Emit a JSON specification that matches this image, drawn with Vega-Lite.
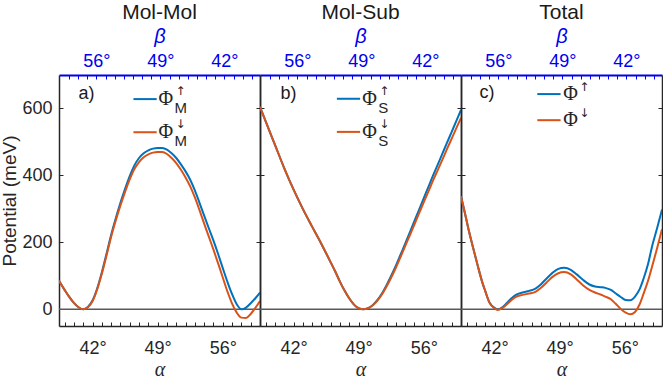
{
  "$schema": "https://vega.github.io/schema/vega-lite/v6.json",
  "padding": {"left": 0, "top": 2, "right": 0, "bottom": 0},
  "spacing": 0,
  "bounds": "flush",
  "config": {
    "view": {"stroke": null},
    "font": "Liberation Sans",
    "axis": {
      "grid": false,
      "labelFont": "Liberation Sans",
      "labelFontSize": 18,
      "labelColor": "#262626",
      "labelOverlap": false,
      "domainColor": "#262626",
      "domainWidth": 1.5,
      "tickColor": "#262626",
      "tickWidth": 1,
      "tickSize": -4,
      "titleFontWeight": "normal",
      "titleColor": "#262626"
    },
    "title": {"fontSize": 21, "fontWeight": "normal", "color": "#1a1a1a", "font": "Liberation Sans", "offset": 3}
  },
  "datasets": {
    "molmol": [
      {"a": 38.4, "up": 85, "dn": 85}, {"a": 39.0, "up": 58, "dn": 58}, {"a": 39.5, "up": 37, "dn": 37},
      {"a": 40.0, "up": 19, "dn": 19}, {"a": 40.5, "up": 6, "dn": 6}, {"a": 41.0, "up": 0, "dn": 0},
      {"a": 41.5, "up": 7, "dn": 6}, {"a": 42.0, "up": 26, "dn": 24}, {"a": 42.5, "up": 62, "dn": 59},
      {"a": 43.0, "up": 110, "dn": 106}, {"a": 43.5, "up": 165, "dn": 160}, {"a": 44.0, "up": 222, "dn": 216},
      {"a": 44.5, "up": 272, "dn": 265}, {"a": 45.0, "up": 318, "dn": 310}, {"a": 45.5, "up": 360, "dn": 351},
      {"a": 46.0, "up": 398, "dn": 388}, {"a": 46.5, "up": 430, "dn": 419}, {"a": 47.0, "up": 452, "dn": 440},
      {"a": 47.5, "up": 466, "dn": 454}, {"a": 48.0, "up": 475, "dn": 463}, {"a": 48.5, "up": 480, "dn": 468},
      {"a": 49.0, "up": 482, "dn": 470}, {"a": 49.5, "up": 482, "dn": 470}, {"a": 50.0, "up": 477, "dn": 464},
      {"a": 50.5, "up": 466, "dn": 452}, {"a": 51.0, "up": 452, "dn": 437}, {"a": 51.5, "up": 433, "dn": 417},
      {"a": 52.0, "up": 412, "dn": 394}, {"a": 52.5, "up": 387, "dn": 367}, {"a": 53.0, "up": 355, "dn": 334},
      {"a": 53.5, "up": 318, "dn": 296}, {"a": 54.0, "up": 280, "dn": 256}, {"a": 54.5, "up": 242, "dn": 217},
      {"a": 55.0, "up": 205, "dn": 178}, {"a": 55.5, "up": 165, "dn": 137}, {"a": 56.0, "up": 123, "dn": 95},
      {"a": 56.5, "up": 82, "dn": 53}, {"a": 57.0, "up": 45, "dn": 17}, {"a": 57.5, "up": 15, "dn": -10},
      {"a": 58.0, "up": 0, "dn": -25}, {"a": 58.5, "up": 5, "dn": -26}, {"a": 59.0, "up": 18, "dn": -14},
      {"a": 59.5, "up": 33, "dn": 4}, {"a": 60.0, "up": 50, "dn": 25}
    ],
    "molsub": [
      {"a": 38.4, "up": 605, "dn": 605}, {"a": 39.0, "up": 562, "dn": 562}, {"a": 40.0, "up": 492, "dn": 492},
      {"a": 41.0, "up": 422, "dn": 422}, {"a": 42.0, "up": 358, "dn": 358}, {"a": 43.0, "up": 300, "dn": 300},
      {"a": 44.0, "up": 247, "dn": 247}, {"a": 45.0, "up": 195, "dn": 195}, {"a": 46.0, "up": 140, "dn": 140},
      {"a": 46.5, "up": 112, "dn": 112}, {"a": 47.0, "up": 82, "dn": 82}, {"a": 47.5, "up": 55, "dn": 55},
      {"a": 48.0, "up": 32, "dn": 32}, {"a": 48.5, "up": 14, "dn": 14}, {"a": 49.0, "up": 3, "dn": 3},
      {"a": 49.5, "up": 0, "dn": 0}, {"a": 50.0, "up": 3, "dn": 3}, {"a": 50.5, "up": 12, "dn": 11},
      {"a": 51.0, "up": 27, "dn": 25}, {"a": 51.5, "up": 47, "dn": 44}, {"a": 52.0, "up": 72, "dn": 68},
      {"a": 52.5, "up": 100, "dn": 95}, {"a": 53.0, "up": 130, "dn": 124}, {"a": 53.5, "up": 163, "dn": 156},
      {"a": 54.0, "up": 196, "dn": 189}, {"a": 54.5, "up": 230, "dn": 221}, {"a": 55.0, "up": 264, "dn": 254},
      {"a": 55.5, "up": 298, "dn": 287}, {"a": 56.0, "up": 332, "dn": 320}, {"a": 56.5, "up": 366, "dn": 352},
      {"a": 57.0, "up": 400, "dn": 385}, {"a": 57.5, "up": 432, "dn": 416}, {"a": 58.0, "up": 465, "dn": 447},
      {"a": 58.5, "up": 498, "dn": 479}, {"a": 59.0, "up": 530, "dn": 510}, {"a": 59.5, "up": 563, "dn": 541},
      {"a": 60.0, "up": 596, "dn": 572}
    ],
    "total": [
      {"a": 38.4, "up": 338, "dn": 338}, {"a": 38.8, "up": 290, "dn": 290}, {"a": 39.2, "up": 240, "dn": 240},
      {"a": 39.7, "up": 184, "dn": 184}, {"a": 40.2, "up": 130, "dn": 130}, {"a": 40.75, "up": 75, "dn": 75},
      {"a": 41.0, "up": 55, "dn": 55}, {"a": 41.46, "up": 20, "dn": 20}, {"a": 42.0, "up": 4, "dn": 3},
      {"a": 42.35, "up": 0, "dn": -2}, {"a": 42.8, "up": 5, "dn": 3}, {"a": 43.3, "up": 18, "dn": 14},
      {"a": 43.8, "up": 32, "dn": 27}, {"a": 44.3, "up": 43, "dn": 37}, {"a": 45.0, "up": 50, "dn": 43},
      {"a": 45.7, "up": 55, "dn": 47}, {"a": 46.4, "up": 62, "dn": 52}, {"a": 47.0, "up": 75, "dn": 64},
      {"a": 47.6, "up": 92, "dn": 80}, {"a": 48.2, "up": 108, "dn": 96}, {"a": 48.8, "up": 120, "dn": 107},
      {"a": 49.5, "up": 124, "dn": 111}, {"a": 50.2, "up": 118, "dn": 104}, {"a": 50.8, "up": 105, "dn": 90},
      {"a": 51.5, "up": 88, "dn": 72}, {"a": 52.2, "up": 74, "dn": 58}, {"a": 52.8, "up": 68, "dn": 50},
      {"a": 53.4, "up": 66, "dn": 44}, {"a": 53.9, "up": 64, "dn": 38}, {"a": 54.5, "up": 58, "dn": 30},
      {"a": 55.0, "up": 48, "dn": 17}, {"a": 55.6, "up": 36, "dn": 0}, {"a": 56.1, "up": 28, "dn": -10},
      {"a": 56.6, "up": 27, "dn": -15}, {"a": 57.1, "up": 38, "dn": -8}, {"a": 57.6, "up": 60, "dn": 15},
      {"a": 58.0, "up": 90, "dn": 45}, {"a": 58.5, "up": 135, "dn": 85}, {"a": 58.9, "up": 184, "dn": 124},
      {"a": 59.5, "up": 245, "dn": 185}, {"a": 60.0, "up": 298, "dn": 239}
    ]
  },
  "hconcat": [
    {
      "width": 201, "height": 251,
      "title": {"text": "Mol-Mol"},
      "data": {"values": [{}]},
      "layer": [
        {"mark": {"type": "rule", "color": "#5a5a5a", "strokeWidth": 1.5}, "encoding": {"y": {"datum": 0, "type": "quantitative", "scale": {"domain": [-50, 700], "nice": false, "zero": false}, "axis": null}}},
        {
          "data": {"name": "molmol"},
          "transform": [{"fold": ["up", "dn"], "as": ["spin", "v"]}],
          "mark": {"type": "line", "strokeWidth": 2, "interpolate": "monotone", "clip": true},
          "encoding": {
            "x": {"field": "a", "type": "quantitative", "scale": {"domain": [38.4, 60], "nice": false, "zero": false},
              "axis": {"orient": "bottom", "values": [39,40,41,42,43,44,45,46,47,48,49,50,51,52,53,54,55,56,57,58,59],
                "labelExpr": "datum.value % 7 === 0 ? datum.value + '°' : ''", "labelPadding": 17,
                "title": "α", "titleFont": "Liberation Serif", "titleFontStyle": "italic", "titleFontSize": 20, "titlePadding": 2}},
            "y": {"field": "v", "type": "quantitative", "scale": {"domain": [-50, 700], "nice": false, "zero": false},
              "axis": {"orient": "left", "values": [0, 200, 400, 600], "labelPadding": 11, "title": "Potential (meV)", "titleFontSize": 19, "titlePadding": 2}},
            "color": {"field": "spin", "type": "nominal", "scale": {"domain": ["up", "dn"], "range": ["#0072BD", "#D95319"]}, "legend": null}
          }
        },
        {"mark": {"type": "text", "text": "a)", "align": "left", "baseline": "middle", "fontSize": 18, "color": "#1a1a1a"},
         "encoding": {"x": {"datum": 40.5, "type": "quantitative", "scale": {"domain": [38.4, 60], "nice": false, "zero": false}, "axis": null}, "y": {"datum": 642, "type": "quantitative", "scale": {"domain": [-50, 700], "nice": false, "zero": false}, "axis": null}}},
        {"mark": {"type": "rule", "color": "#0072BD", "strokeWidth": 2},
         "encoding": {"x": {"datum": 46.4, "type": "quantitative", "scale": {"domain": [38.4, 60], "nice": false, "zero": false}, "axis": null}, "x2": {"datum": 48.9}, "y": {"datum": 628, "type": "quantitative", "scale": {"domain": [-50, 700], "nice": false, "zero": false}, "axis": null}}},
        {"mark": {"type": "rule", "color": "#D95319", "strokeWidth": 2},
         "encoding": {"x": {"datum": 46.4, "type": "quantitative", "scale": {"domain": [38.4, 60], "nice": false, "zero": false}, "axis": null}, "x2": {"datum": 48.9}, "y": {"datum": 529, "type": "quantitative", "scale": {"domain": [-50, 700], "nice": false, "zero": false}, "axis": null}}},
        {"mark": {"type": "text", "text": "Φ", "align": "left", "baseline": "middle", "font": "Liberation Serif", "fontSize": 20, "color": "#262626"},
         "encoding": {"x": {"datum": 49.1, "type": "quantitative", "scale": {"domain": [38.4, 60], "nice": false, "zero": false}, "axis": null}, "y": {"datum": 628, "type": "quantitative", "scale": {"domain": [-50, 700], "nice": false, "zero": false}, "axis": null}}},
        {"mark": {"type": "text", "text": "↑", "align": "left", "baseline": "middle", "font": "DejaVu Sans", "fontSize": 12, "dx": 17, "dy": -8, "color": "#262626"},
         "encoding": {"x": {"datum": 49.1, "type": "quantitative", "scale": {"domain": [38.4, 60], "nice": false, "zero": false}, "axis": null}, "y": {"datum": 628, "type": "quantitative", "scale": {"domain": [-50, 700], "nice": false, "zero": false}, "axis": null}}},
        {"mark": {"type": "text", "text": "M", "align": "left", "baseline": "middle", "fontSize": 15, "dx": 16, "dy": 9, "color": "#262626"},
         "encoding": {"x": {"datum": 49.1, "type": "quantitative", "scale": {"domain": [38.4, 60], "nice": false, "zero": false}, "axis": null}, "y": {"datum": 628, "type": "quantitative", "scale": {"domain": [-50, 700], "nice": false, "zero": false}, "axis": null}}},
        {"mark": {"type": "text", "text": "Φ", "align": "left", "baseline": "middle", "font": "Liberation Serif", "fontSize": 20, "color": "#262626"},
         "encoding": {"x": {"datum": 49.1, "type": "quantitative", "scale": {"domain": [38.4, 60], "nice": false, "zero": false}, "axis": null}, "y": {"datum": 529, "type": "quantitative", "scale": {"domain": [-50, 700], "nice": false, "zero": false}, "axis": null}}},
        {"mark": {"type": "text", "text": "↓", "align": "left", "baseline": "middle", "font": "DejaVu Sans", "fontSize": 12, "dx": 17, "dy": -8, "color": "#262626"},
         "encoding": {"x": {"datum": 49.1, "type": "quantitative", "scale": {"domain": [38.4, 60], "nice": false, "zero": false}, "axis": null}, "y": {"datum": 529, "type": "quantitative", "scale": {"domain": [-50, 700], "nice": false, "zero": false}, "axis": null}}},
        {"mark": {"type": "text", "text": "M", "align": "left", "baseline": "middle", "fontSize": 15, "dx": 16, "dy": 9, "color": "#262626"},
         "encoding": {"x": {"datum": 49.1, "type": "quantitative", "scale": {"domain": [38.4, 60], "nice": false, "zero": false}, "axis": null}, "y": {"datum": 529, "type": "quantitative", "scale": {"domain": [-50, 700], "nice": false, "zero": false}, "axis": null}}},
        {
          "data": {"values": [{"b": 49, "v": 0}]},
          "mark": {"type": "point", "opacity": 0},
          "encoding": {
            "x": {"field": "b", "type": "quantitative", "scale": {"domain": [38.1, 60.1], "reverse": true, "nice": false, "zero": false},
              "axis": {"orient": "top", "values": [39,40,41,42,43,44,45,46,47,48,49,50,51,52,53,54,55,56,57,58,59],
                "labelExpr": "datum.value % 7 === 0 ? datum.value + '°' : ''", "labelPadding": 9, "labelColor": "#0000ee",
                "tickColor": "#0000ee", "domainColor": "#0000ee", "domainWidth": 2,
                "title": "β", "titleColor": "#0000ee", "titleFontStyle": "italic", "titleFontSize": 20, "titlePadding": 6}},
            "y": {"field": "v", "type": "quantitative", "scale": {"domain": [-50, 700], "nice": false, "zero": false},
              "axis": {"orient": "right", "values": [0, 200, 400, 600], "labels": false, "title": null}}
          }
        }
      ],
      "resolve": {"scale": {"x": "independent", "y": "independent"}}
    },
    {
      "width": 201, "height": 251,
      "title": {"text": "Mol-Sub"},
      "data": {"values": [{}]},
      "layer": [
        {"mark": {"type": "rule", "color": "#5a5a5a", "strokeWidth": 1.5}, "encoding": {"y": {"datum": 0, "type": "quantitative", "scale": {"domain": [-50, 700], "nice": false, "zero": false}, "axis": null}}},
        {
          "data": {"name": "molsub"},
          "transform": [{"fold": ["up", "dn"], "as": ["spin", "v"]}],
          "mark": {"type": "line", "strokeWidth": 2, "interpolate": "monotone", "clip": true},
          "encoding": {
            "x": {"field": "a", "type": "quantitative", "scale": {"domain": [38.4, 60], "nice": false, "zero": false},
              "axis": {"orient": "bottom", "values": [39,40,41,42,43,44,45,46,47,48,49,50,51,52,53,54,55,56,57,58,59],
                "labelExpr": "datum.value % 7 === 0 ? datum.value + '°' : ''", "labelPadding": 17,
                "title": "α", "titleFont": "Liberation Serif", "titleFontStyle": "italic", "titleFontSize": 20, "titlePadding": 2}},
            "y": {"field": "v", "type": "quantitative", "scale": {"domain": [-50, 700], "nice": false, "zero": false},
              "axis": {"orient": "left", "values": [0, 200, 400, 600], "labels": false, "title": null}},
            "color": {"field": "spin", "type": "nominal", "scale": {"domain": ["up", "dn"], "range": ["#0072BD", "#D95319"]}, "legend": null}
          }
        },
        {"mark": {"type": "text", "text": "b)", "align": "left", "baseline": "middle", "fontSize": 18, "color": "#1a1a1a"},
         "encoding": {"x": {"datum": 40.6, "type": "quantitative", "scale": {"domain": [38.4, 60], "nice": false, "zero": false}, "axis": null}, "y": {"datum": 642, "type": "quantitative", "scale": {"domain": [-50, 700], "nice": false, "zero": false}, "axis": null}}},
        {"mark": {"type": "rule", "color": "#0072BD", "strokeWidth": 2},
         "encoding": {"x": {"datum": 46.66, "type": "quantitative", "scale": {"domain": [38.4, 60], "nice": false, "zero": false}, "axis": null}, "x2": {"datum": 49.16}, "y": {"datum": 629, "type": "quantitative", "scale": {"domain": [-50, 700], "nice": false, "zero": false}, "axis": null}}},
        {"mark": {"type": "rule", "color": "#D95319", "strokeWidth": 2},
         "encoding": {"x": {"datum": 46.66, "type": "quantitative", "scale": {"domain": [38.4, 60], "nice": false, "zero": false}, "axis": null}, "x2": {"datum": 49.16}, "y": {"datum": 530, "type": "quantitative", "scale": {"domain": [-50, 700], "nice": false, "zero": false}, "axis": null}}},
        {"mark": {"type": "text", "text": "Φ", "align": "left", "baseline": "middle", "font": "Liberation Serif", "fontSize": 20, "color": "#262626"},
         "encoding": {"x": {"datum": 49.4, "type": "quantitative", "scale": {"domain": [38.4, 60], "nice": false, "zero": false}, "axis": null}, "y": {"datum": 629, "type": "quantitative", "scale": {"domain": [-50, 700], "nice": false, "zero": false}, "axis": null}}},
        {"mark": {"type": "text", "text": "↑", "align": "left", "baseline": "middle", "font": "DejaVu Sans", "fontSize": 12, "dx": 17, "dy": -8, "color": "#262626"},
         "encoding": {"x": {"datum": 49.4, "type": "quantitative", "scale": {"domain": [38.4, 60], "nice": false, "zero": false}, "axis": null}, "y": {"datum": 629, "type": "quantitative", "scale": {"domain": [-50, 700], "nice": false, "zero": false}, "axis": null}}},
        {"mark": {"type": "text", "text": "S", "align": "left", "baseline": "middle", "fontSize": 15, "dx": 16, "dy": 9, "color": "#262626"},
         "encoding": {"x": {"datum": 49.4, "type": "quantitative", "scale": {"domain": [38.4, 60], "nice": false, "zero": false}, "axis": null}, "y": {"datum": 629, "type": "quantitative", "scale": {"domain": [-50, 700], "nice": false, "zero": false}, "axis": null}}},
        {"mark": {"type": "text", "text": "Φ", "align": "left", "baseline": "middle", "font": "Liberation Serif", "fontSize": 20, "color": "#262626"},
         "encoding": {"x": {"datum": 49.4, "type": "quantitative", "scale": {"domain": [38.4, 60], "nice": false, "zero": false}, "axis": null}, "y": {"datum": 530, "type": "quantitative", "scale": {"domain": [-50, 700], "nice": false, "zero": false}, "axis": null}}},
        {"mark": {"type": "text", "text": "↓", "align": "left", "baseline": "middle", "font": "DejaVu Sans", "fontSize": 12, "dx": 17, "dy": -8, "color": "#262626"},
         "encoding": {"x": {"datum": 49.4, "type": "quantitative", "scale": {"domain": [38.4, 60], "nice": false, "zero": false}, "axis": null}, "y": {"datum": 530, "type": "quantitative", "scale": {"domain": [-50, 700], "nice": false, "zero": false}, "axis": null}}},
        {"mark": {"type": "text", "text": "S", "align": "left", "baseline": "middle", "fontSize": 15, "dx": 16, "dy": 9, "color": "#262626"},
         "encoding": {"x": {"datum": 49.4, "type": "quantitative", "scale": {"domain": [38.4, 60], "nice": false, "zero": false}, "axis": null}, "y": {"datum": 530, "type": "quantitative", "scale": {"domain": [-50, 700], "nice": false, "zero": false}, "axis": null}}},
        {
          "data": {"values": [{"b": 49, "v": 0}]},
          "mark": {"type": "point", "opacity": 0},
          "encoding": {
            "x": {"field": "b", "type": "quantitative", "scale": {"domain": [38.1, 60.1], "reverse": true, "nice": false, "zero": false},
              "axis": {"orient": "top", "values": [39,40,41,42,43,44,45,46,47,48,49,50,51,52,53,54,55,56,57,58,59],
                "labelExpr": "datum.value % 7 === 0 ? datum.value + '°' : ''", "labelPadding": 9, "labelColor": "#0000ee",
                "tickColor": "#0000ee", "domainColor": "#0000ee", "domainWidth": 2,
                "title": "β", "titleColor": "#0000ee", "titleFontStyle": "italic", "titleFontSize": 20, "titlePadding": 6}},
            "y": {"field": "v", "type": "quantitative", "scale": {"domain": [-50, 700], "nice": false, "zero": false},
              "axis": {"orient": "right", "values": [0, 200, 400, 600], "labels": false, "title": null}}
          }
        }
      ],
      "resolve": {"scale": {"x": "independent", "y": "independent"}}
    },
    {
      "width": 201, "height": 251,
      "title": {"text": "Total"},
      "data": {"values": [{}]},
      "layer": [
        {"mark": {"type": "rule", "color": "#5a5a5a", "strokeWidth": 1.5}, "encoding": {"y": {"datum": 0, "type": "quantitative", "scale": {"domain": [-50, 700], "nice": false, "zero": false}, "axis": null}}},
        {
          "data": {"name": "total"},
          "transform": [{"fold": ["up", "dn"], "as": ["spin", "v"]}],
          "mark": {"type": "line", "strokeWidth": 2, "interpolate": "monotone", "clip": true},
          "encoding": {
            "x": {"field": "a", "type": "quantitative", "scale": {"domain": [38.4, 60], "nice": false, "zero": false},
              "axis": {"orient": "bottom", "values": [39,40,41,42,43,44,45,46,47,48,49,50,51,52,53,54,55,56,57,58,59],
                "labelExpr": "datum.value % 7 === 0 ? datum.value + '°' : ''", "labelPadding": 17,
                "title": "α", "titleFont": "Liberation Serif", "titleFontStyle": "italic", "titleFontSize": 20, "titlePadding": 2}},
            "y": {"field": "v", "type": "quantitative", "scale": {"domain": [-50, 700], "nice": false, "zero": false},
              "axis": {"orient": "left", "values": [0, 200, 400, 600], "labels": false, "title": null}},
            "color": {"field": "spin", "type": "nominal", "scale": {"domain": ["up", "dn"], "range": ["#0072BD", "#D95319"]}, "legend": null}
          }
        },
        {"mark": {"type": "text", "text": "c)", "align": "left", "baseline": "middle", "fontSize": 18, "color": "#1a1a1a"},
         "encoding": {"x": {"datum": 40.4, "type": "quantitative", "scale": {"domain": [38.4, 60], "nice": false, "zero": false}, "axis": null}, "y": {"datum": 645, "type": "quantitative", "scale": {"domain": [-50, 700], "nice": false, "zero": false}, "axis": null}}},
        {"mark": {"type": "rule", "color": "#0072BD", "strokeWidth": 2},
         "encoding": {"x": {"datum": 46.6, "type": "quantitative", "scale": {"domain": [38.4, 60], "nice": false, "zero": false}, "axis": null}, "x2": {"datum": 49.1}, "y": {"datum": 643, "type": "quantitative", "scale": {"domain": [-50, 700], "nice": false, "zero": false}, "axis": null}}},
        {"mark": {"type": "rule", "color": "#D95319", "strokeWidth": 2},
         "encoding": {"x": {"datum": 46.6, "type": "quantitative", "scale": {"domain": [38.4, 60], "nice": false, "zero": false}, "axis": null}, "x2": {"datum": 49.1}, "y": {"datum": 565, "type": "quantitative", "scale": {"domain": [-50, 700], "nice": false, "zero": false}, "axis": null}}},
        {"mark": {"type": "text", "text": "Φ", "align": "left", "baseline": "middle", "font": "Liberation Serif", "fontSize": 20, "color": "#262626"},
         "encoding": {"x": {"datum": 49.4, "type": "quantitative", "scale": {"domain": [38.4, 60], "nice": false, "zero": false}, "axis": null}, "y": {"datum": 643, "type": "quantitative", "scale": {"domain": [-50, 700], "nice": false, "zero": false}, "axis": null}}},
        {"mark": {"type": "text", "text": "↑", "align": "left", "baseline": "middle", "font": "DejaVu Sans", "fontSize": 12, "dx": 16, "dy": -7, "color": "#262626"},
         "encoding": {"x": {"datum": 49.4, "type": "quantitative", "scale": {"domain": [38.4, 60], "nice": false, "zero": false}, "axis": null}, "y": {"datum": 643, "type": "quantitative", "scale": {"domain": [-50, 700], "nice": false, "zero": false}, "axis": null}}},
        {"mark": {"type": "text", "text": "Φ", "align": "left", "baseline": "middle", "font": "Liberation Serif", "fontSize": 20, "color": "#262626"},
         "encoding": {"x": {"datum": 49.4, "type": "quantitative", "scale": {"domain": [38.4, 60], "nice": false, "zero": false}, "axis": null}, "y": {"datum": 565, "type": "quantitative", "scale": {"domain": [-50, 700], "nice": false, "zero": false}, "axis": null}}},
        {"mark": {"type": "text", "text": "↓", "align": "left", "baseline": "middle", "font": "DejaVu Sans", "fontSize": 12, "dx": 16, "dy": -7, "color": "#262626"},
         "encoding": {"x": {"datum": 49.4, "type": "quantitative", "scale": {"domain": [38.4, 60], "nice": false, "zero": false}, "axis": null}, "y": {"datum": 565, "type": "quantitative", "scale": {"domain": [-50, 700], "nice": false, "zero": false}, "axis": null}}},
        {
          "data": {"values": [{"b": 49, "v": 0}]},
          "mark": {"type": "point", "opacity": 0},
          "encoding": {
            "x": {"field": "b", "type": "quantitative", "scale": {"domain": [38.1, 60.1], "reverse": true, "nice": false, "zero": false},
              "axis": {"orient": "top", "values": [39,40,41,42,43,44,45,46,47,48,49,50,51,52,53,54,55,56,57,58,59],
                "labelExpr": "datum.value % 7 === 0 ? datum.value + '°' : ''", "labelPadding": 9, "labelColor": "#0000ee",
                "tickColor": "#0000ee", "domainColor": "#0000ee", "domainWidth": 2,
                "title": "β", "titleColor": "#0000ee", "titleFontStyle": "italic", "titleFontSize": 20, "titlePadding": 6}},
            "y": {"field": "v", "type": "quantitative", "scale": {"domain": [-50, 700], "nice": false, "zero": false},
              "axis": {"orient": "right", "values": [0, 200, 400, 600], "labels": false, "title": null}}
          }
        }
      ],
      "resolve": {"scale": {"x": "independent", "y": "independent"}}
    }
  ]
}
